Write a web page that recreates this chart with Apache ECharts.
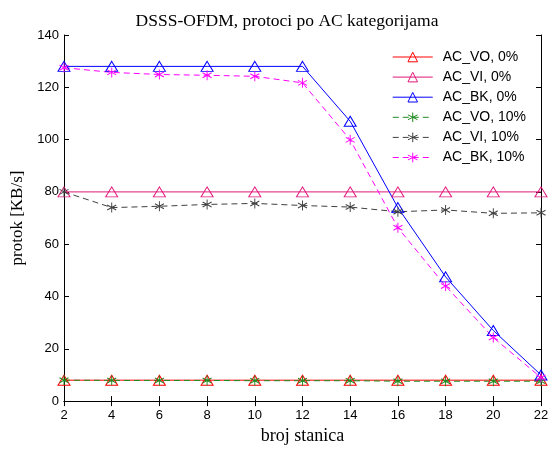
<!DOCTYPE html>
<html>
<head>
<meta charset="utf-8">
<script src="https://cdn.jsdelivr.net/npm/echarts@6/dist/echarts.min.js"></script>
<style>
  html, body { margin: 0; padding: 0; background: #fff; }
  #chart { width: 553px; height: 450px; }
</style>
</head>
<body>
<div id="chart"></div>
<script>
// broj stanica
const stations = [2, 4, 6, 8, 10, 12, 14, 16, 18, 20, 22];

// protok [KB/s]
const acVo0 = [8, 8, 8, 8, 8, 8, 8, 8, 8, 8, 8];
const acVi0 = [80, 80, 80, 80, 80, 80, 80, 80, 80, 80, 80];
const acBk0 = [128, 128, 128, 128, 128, 128, 107, 74, 47.5, 27, 10];
const acVo10 = [8, 7.9, 7.9, 7.9, 7.8, 7.8, 7.8, 7.6, 7.6, 7.6, 7.6];
const acVi10 = [80, 74, 74.5, 75.2, 75.6, 74.8, 74.2, 72.4, 73.1, 71.8, 72];
const acBk10 = [127.5, 125.7, 124.9, 124.6, 124.2, 121.7, 99.9, 66.3, 44, 24.3, 9];

const xTicks = { min: 2, max: 22, interval: 2 };
const yTicks = { min: 0, max: 140, interval: 20 };

const triangle = "triangle";
const asterisk = "path://M0,-5L0,5M-4.33,-2.5L4.33,2.5M-4.33,2.5L4.33,-2.5";

const pairs = (ys) => stations.map((x, i) => [x, ys[i]]);

const mkSeries = (name, ys, color, dashed) => ({
  name: name,
  type: "line",
  data: pairs(ys),
  symbol: dashed ? asterisk : triangle,
  symbolSize: dashed ? [9, 10] : [12, 10],
  symbolKeepAspect: false,
  showSymbol: true,
  animation: false,
  lineStyle: {
    color: color,
    width: 1,
    type: dashed ? [6, 4] : "solid",
  },
  itemStyle: {
    color: "rgba(0,0,0,0)",
    borderColor: color,
    borderWidth: 1,
  },
  emphasis: { disabled: true },
});

const myChart = echarts.init(document.getElementById("chart"), null, { renderer: "canvas" });

const axisText = { color: "#000", fontFamily: "Liberation Sans, Arial", fontSize: 13 };

myChart.setOption({
  backgroundColor: "#fff",
  animation: false,
  title: {
    text: "DSSS-OFDM, protoci po AC kategorijama",
    left: 282,
    top: 7,
    textAlign: "center",
    textStyle: {
      fontFamily: "Liberation Serif, Times New Roman",
      fontWeight: "normal",
      fontSize: 17.5,
      color: "#000",
    },
  },
  grid: {
    left: 64,
    right: 12,
    top: 35,
    bottom: 46,
  },
  legend: {
    orient: "vertical",
    right: 22,
    top: 45,
    itemWidth: 40,
    itemHeight: 12,
    itemGap: 6.1,
    backgroundColor: "#fff",
    lineStyle: { width: 1 },
    itemStyle: { borderWidth: 1 },
    textStyle: {
      color: "#000",
      fontFamily: "Liberation Sans, Arial",
      fontSize: 14,
      padding: [0, 0, 0, 5],
    },
    data: ["AC_VO, 0%", "AC_VI, 0%", "AC_BK, 0%", "AC_VO, 10%", "AC_VI, 10%", "AC_BK, 10%"],
  },
  xAxis: [
    {
      type: "value",
      min: xTicks.min,
      max: xTicks.max,
      interval: xTicks.interval,
      name: "broj stanica",
      nameLocation: "middle",
      nameGap: 25,
      nameTextStyle: {
        fontFamily: "Liberation Serif, Times New Roman",
        fontSize: 18,
        color: "#000",
      },
      axisLine: { lineStyle: { color: "#000", width: 1 } },
      axisTick: { inside: true, length: 5, lineStyle: { color: "#000" } },
      axisLabel: Object.assign({ margin: 8 }, axisText),
      splitLine: { show: false },
    },
    {
      type: "value",
      position: "top",
      min: xTicks.min,
      max: xTicks.max,
      interval: xTicks.interval,
      axisLine: { lineStyle: { color: "#000", width: 1 } },
      axisTick: { inside: true, length: 5, lineStyle: { color: "#000" } },
      axisLabel: { show: false },
      splitLine: { show: false },
    },
  ],
  yAxis: [
    {
      type: "value",
      min: yTicks.min,
      max: yTicks.max,
      interval: yTicks.interval,
      name: "protok [KB/s]",
      nameLocation: "middle",
      nameGap: 31,
      nameTextStyle: {
        fontFamily: "Liberation Serif, Times New Roman",
        fontSize: 17,
        color: "#000",
      },
      axisLine: { show: true, lineStyle: { color: "#000", width: 1 } },
      axisTick: { show: true, inside: true, length: 5, lineStyle: { color: "#000" } },
      axisLabel: Object.assign({ margin: 5 }, axisText),
      splitLine: { show: false },
    },
    {
      type: "value",
      position: "right",
      min: yTicks.min,
      max: yTicks.max,
      interval: yTicks.interval,
      axisLine: { show: true, lineStyle: { color: "#000", width: 1 } },
      axisTick: { show: true, inside: true, length: 5, lineStyle: { color: "#000" } },
      axisLabel: { show: false },
      splitLine: { show: false },
    },
  ],
  series: [
    mkSeries("AC_VO, 0%", acVo0, "#ff0000", false),
    mkSeries("AC_VI, 0%", acVi0, "#e0187a", false),
    mkSeries("AC_BK, 0%", acBk0, "#0000ff", false),
    mkSeries("AC_VO, 10%", acVo10, "#1f8a1f", true),
    mkSeries("AC_VI, 10%", acVi10, "#404040", true),
    mkSeries("AC_BK, 10%", acBk10, "#ff00ff", true),
  ],
});
</script>
</body>
</html>
